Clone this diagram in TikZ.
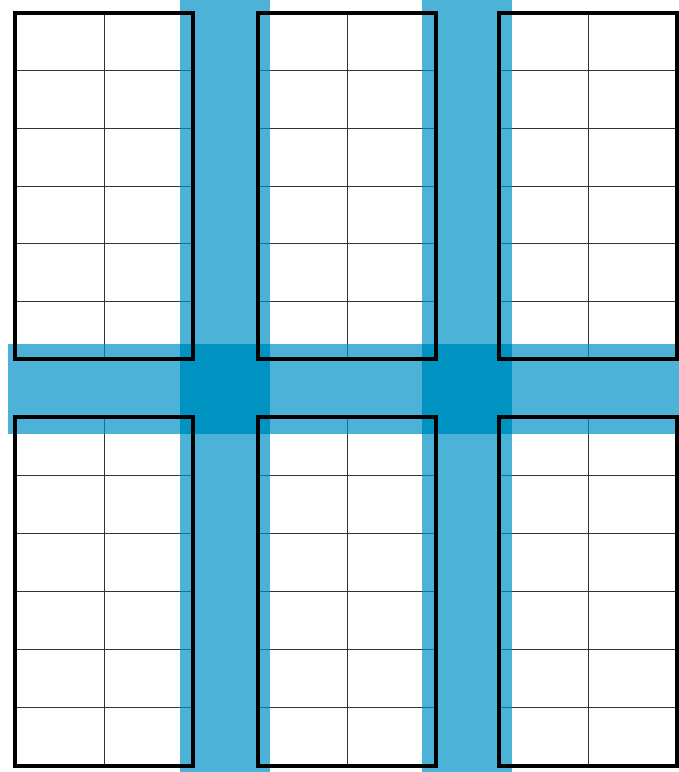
\documentclass[tikz,border=0pt]{standalone}
\definecolor{stripblue}{RGB}{0,145,200}
\definecolor{crossblue}{RGB}{0,146,193}
\begin{document}
\begin{tikzpicture}[x=0.02cm,y=-0.02cm,
      cell/.style={line width=0.5pt,black!80},
      strip/.style={fill=stripblue,opacity=0.7},
      cross/.style={fill=crossblue},
      frame/.style={line width=1.8pt,line join=miter}]
      \useasboundingbox (0,0) rectangle (679,772);
      % thin cell lines of the six blocks
      \foreach \x in {15,258,499} {
        \foreach \y/\h in {13/346,417/349} {
          \foreach \i in {1,...,5} {
            \draw[cell] (\x,\y+\i*\h/6) -- (\x+178,\y+\i*\h/6);
          }
          \draw[cell] (\x+89,\y) -- (\x+89,\y+\h);
        }
      }
      % blue strips
      \foreach \x in {180,422} {
        \fill[strip] (\x,0) rectangle (\x+90,772);
        \fill[cross] (\x,344) rectangle (\x+90,434);
      }
      \fill[strip] (8,344) rectangle (180,434);
      \fill[strip] (270,344) rectangle (422,434);
      \fill[strip] (512,344) rectangle (679,434);
      % block frames
      \foreach \x in {15,258,499} {
        \foreach \y/\h in {13/346,417/349} {
          \draw[frame] (\x,\y) rectangle (\x+178,\y+\h);
        }
      }
    \end{tikzpicture}
\end{document}
